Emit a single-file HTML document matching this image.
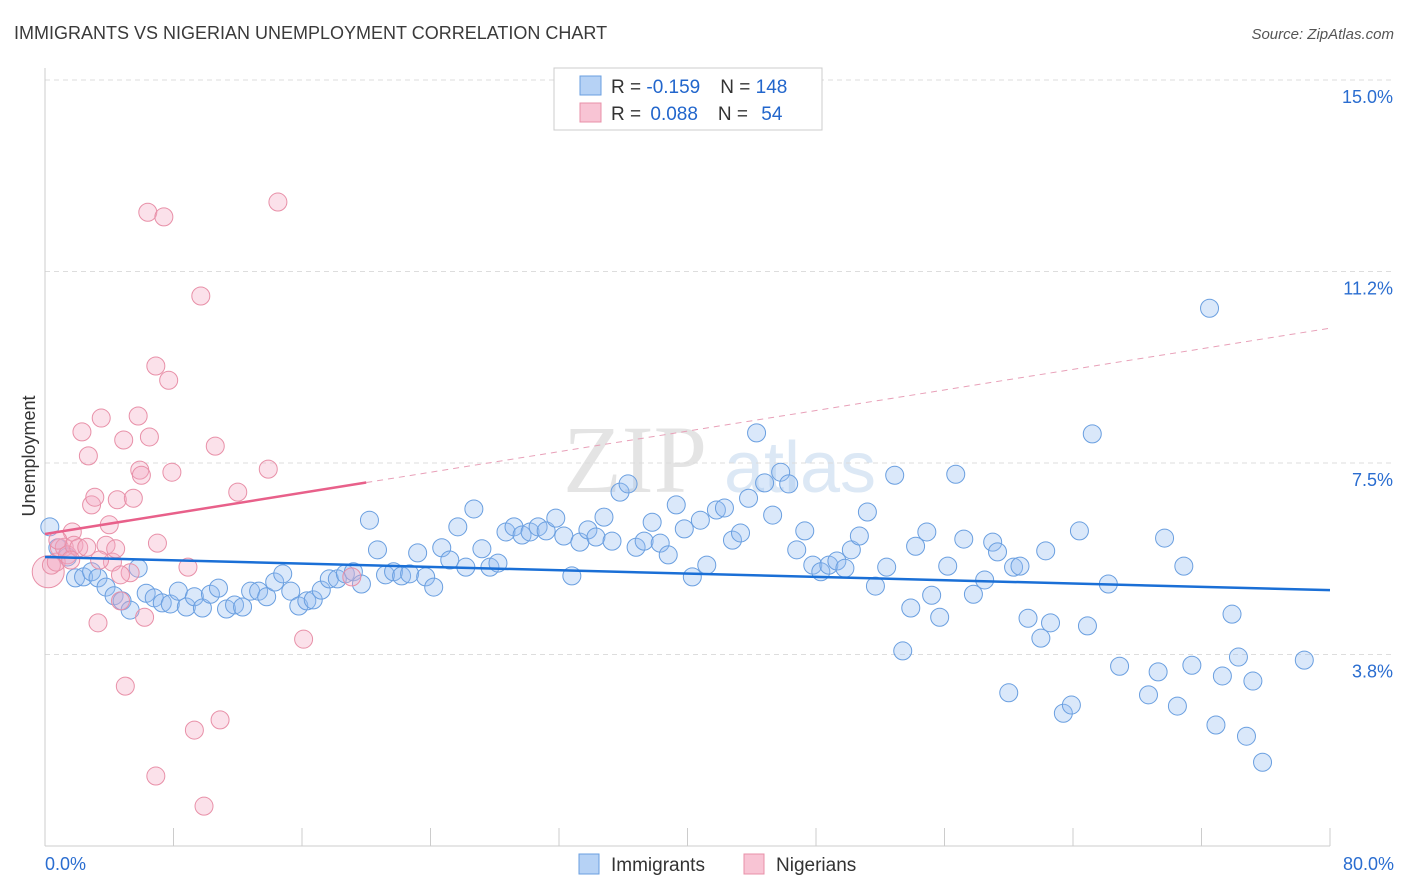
<!DOCTYPE html>
<html><head><meta charset="utf-8"><style>
body{margin:0;background:#fff;font-family:"Liberation Sans",sans-serif}
svg{display:block}
</style></head><body>
<svg id="c" width="1406" height="892" xmlns="http://www.w3.org/2000/svg">
<text x="14" y="39" font-size="18" fill="#3a3a3a">IMMIGRANTS VS NIGERIAN UNEMPLOYMENT CORRELATION CHART</text>
<text x="1394" y="39" font-size="15" fill="#555" font-style="italic" text-anchor="end">Source: ZipAtlas.com</text>
<text x="35" y="456" font-size="18" fill="#333" text-anchor="middle" transform="rotate(-90 35 456)">Unemployment</text>
<g>
<text x="635" y="492" font-size="96" fill="#e4e4e4" font-family="Liberation Serif,serif" text-anchor="middle">ZIP</text>
<text x="800" y="492" font-size="72" fill="#dce8f5" text-anchor="middle">atlas</text>
</g>
<g id="grid"></g><g id="axes"></g><g id="marks"></g>
<g>
<rect x="554" y="68" width="268" height="62" fill="#fff" stroke="#ccc"/>
<rect x="580" y="76" width="21" height="19" fill="#b6d2f5" stroke="#6a9fe0"/>
<rect x="580" y="103" width="21" height="19" fill="#f8c4d4" stroke="#e890a8"/>
<text x="611" y="93" font-size="19" fill="#333">R = <tspan fill="#2266cc">-0.159</tspan><tspan dx="20">N = </tspan><tspan fill="#2266cc">148</tspan></text>
<text x="611" y="120" font-size="19" fill="#333">R = <tspan dx="4" fill="#2266cc">0.088</tspan><tspan dx="20">N = </tspan><tspan dx="8" fill="#2266cc">54</tspan></text>
</g>
<g>
<rect x="579" y="854" width="20" height="20" fill="#b6d2f5" stroke="#6a9fe0"/>
<text x="611" y="871" font-size="19" fill="#333">Immigrants</text>
<rect x="744" y="854" width="20" height="20" fill="#f8c4d4" stroke="#e890a8"/>
<text x="776" y="871" font-size="19" fill="#333">Nigerians</text>
</g>
</svg>
<script>
const yTicks=[15.0,11.25,7.5,3.75];
const yTickLabels=["15.0%","11.2%","7.5%","3.8%"];
const xTickValues=[0,8,16,24,32,40,48,56,64,72,80];
const xEndLabels=["0.0%","80.0%"];
const blueX=[0.3,0.8,1.4,1.9,2.4,2.9,3.3,3.8,4.3,4.8,5.3,5.8,6.3,6.8,7.3,7.8,8.3,8.8,9.3,9.8,10.3,10.8,11.3,11.8,12.3,12.8,13.3,13.8,14.3,14.8,15.3,15.8,16.3,16.7,17.2,17.7,18.2,18.7,19.2,19.7,20.2,20.7,21.2,21.7,22.2,22.7,23.2,23.7,24.2,24.7,25.2,25.7,26.2,26.7,27.2,27.7,28.2,28.7,29.2,29.7,30.2,30.7,31.2,31.8,32.3,32.8,33.3,33.8,34.3,34.8,35.3,35.8,36.3,36.8,37.3,37.8,38.3,38.8,39.3,39.8,40.3,40.8,41.2,41.8,42.3,42.8,43.3,43.8,44.3,44.8,45.3,45.8,46.3,46.8,47.3,47.8,48.3,48.8,49.3,49.8,50.2,50.7,51.2,51.7,52.4,52.9,53.4,53.9,54.2,54.9,55.2,55.7,56.2,56.7,57.2,57.8,58.5,59.0,59.3,60.0,60.3,60.7,61.2,62.0,62.3,62.6,63.4,63.9,64.4,64.9,65.2,66.2,66.9,68.7,69.3,69.7,70.5,70.9,71.4,72.5,72.9,73.3,73.9,74.3,74.8,75.2,75.8,78.4];
const blueY=[6.25,5.84,5.66,5.25,5.27,5.37,5.25,5.07,4.90,4.80,4.62,5.44,4.95,4.86,4.76,4.74,4.99,4.68,4.88,4.66,4.93,5.05,4.64,4.72,4.68,4.99,4.99,4.88,5.17,5.33,4.99,4.70,4.80,4.82,5.01,5.23,5.23,5.33,5.37,5.13,6.38,5.80,5.31,5.37,5.29,5.33,5.74,5.27,5.07,5.84,5.60,6.25,5.46,6.60,5.82,5.46,5.54,6.15,6.25,6.09,6.15,6.25,6.17,6.42,6.07,5.29,5.95,6.19,6.05,6.44,5.97,6.93,7.09,5.85,5.97,6.34,5.93,5.70,6.68,6.21,5.27,6.38,5.50,6.58,6.62,5.99,6.13,6.81,8.09,7.11,6.48,7.32,7.09,5.80,6.17,5.50,5.37,5.50,5.58,5.44,5.80,6.07,6.54,5.09,5.46,7.26,3.82,4.66,5.87,6.15,4.91,4.48,5.48,7.28,6.01,4.93,5.21,5.95,5.76,3.00,5.46,5.48,4.46,4.07,5.78,4.37,2.60,2.76,6.17,4.31,8.07,5.13,3.52,2.96,3.41,6.03,2.74,5.48,3.54,10.53,2.37,3.33,4.54,3.70,2.15,3.23,1.64,3.64];
const pinkX=[0.2,0.4,0.7,0.9,1.2,1.4,1.7,1.8,2.1,2.3,2.6,2.7,2.9,3.1,3.3,3.5,3.8,4.0,4.2,4.4,4.5,4.7,4.9,5.0,5.3,5.5,5.8,5.9,6.0,6.2,6.4,6.5,6.9,6.9,7.0,7.4,7.7,7.9,8.9,9.3,9.7,9.9,10.6,10.9,12.0,13.9,14.5,16.1,19.1,0.8,1.6,3.4,4.7];
const pinkY=[5.37,5.50,5.56,5.84,5.85,5.70,6.15,5.89,5.84,8.11,5.85,7.64,6.68,6.83,4.37,8.38,5.89,6.29,5.56,5.82,6.78,4.80,7.95,3.13,5.35,6.81,8.42,7.36,7.26,4.48,12.41,8.01,9.40,1.37,5.93,12.32,9.12,7.32,5.46,2.27,10.77,0.78,7.83,2.47,6.93,7.38,12.61,4.05,5.27,5.99,5.60,5.60,5.31];
const blueFit=[5.66,5.01]; // y at x=0, x=80
const pinkFit=[6.11,10.14];
const pinkSolidEnd=20;

const NS="http://www.w3.org/2000/svg";
const X0=45,X1=1330,YB=846,YT=80;
const xs=v=>X0+v/80*(X1-X0);
const ys=v=>YB-v/15*(YB-YT);
function mk(tag,attrs,parent){const e=document.createElementNS(NS,tag);for(const k in attrs)e.setAttribute(k,attrs[k]);parent.appendChild(e);return e;}
const grid=document.getElementById('grid'),axes=document.getElementById('axes'),marks=document.getElementById('marks');
yTicks.forEach((t,i)=>{
 const l=mk('line',{x1:X0,x2:1394,y1:ys(t),y2:ys(t),stroke:'#ddd','stroke-dasharray':'5,4'},grid);
 
 
 const tx=mk('text',{x:1393,y:ys(t)+23,'font-size':18,fill:'#2a6dd0','text-anchor':'end'},axes);
 tx.textContent=yTickLabels[i];
 
 
});
const ya=mk('line',{x1:X0,x2:X0,y1:68,y2:YB,stroke:'#ccc'},axes);


const xa=mk('line',{x1:X0,x2:X1,y1:YB,y2:YB,stroke:'#ccc'},axes);


xTickValues.forEach(v=>{
 const t=mk('line',{x1:xs(v),x2:xs(v),y1:828,y2:YB,stroke:'#ccc'},axes);
 
 
});
const xl0=mk('text',{x:45,y:870,'font-size':18,fill:'#2a6dd0'},axes);xl0.textContent=xEndLabels[0];


const xl1=mk('text',{x:1394,y:870,'font-size':18,fill:'#2a6dd0','text-anchor':'end'},axes);xl1.textContent=xEndLabels[1];


blueX.forEach((x,i)=>{
 const c=mk('circle',{cx:xs(x),cy:ys(blueY[i]),r:9,fill:'rgba(150,190,240,0.35)',stroke:'#6a9fe0','stroke-width':1},marks);
 
 
});
pinkX.forEach((x,i)=>{
 const c=mk('circle',{cx:xs(x),cy:ys(pinkY[i]),r:i===0?16:9,fill:'rgba(244,170,195,0.35)',stroke:'#e890a8','stroke-width':1},marks);
 
 
});
const pAt=x=>pinkFit[0]+(pinkFit[1]-pinkFit[0])*x/80;
const bl=mk('line',{x1:xs(0),y1:ys(blueFit[0]),x2:xs(80),y2:ys(blueFit[1]),stroke:'#1a6fd6','stroke-width':2.5},marks);


const pl=mk('line',{x1:xs(0),y1:ys(pAt(0)),x2:xs(pinkSolidEnd),y2:ys(pAt(pinkSolidEnd)),stroke:'#e8608a','stroke-width':2.5},marks);


const pd=mk('line',{x1:xs(pinkSolidEnd),y1:ys(pAt(pinkSolidEnd)),x2:xs(80),y2:ys(pAt(80)),stroke:'#e8a0b8','stroke-width':1,'stroke-dasharray':'6,5'},marks);


</script>
</body></html>
